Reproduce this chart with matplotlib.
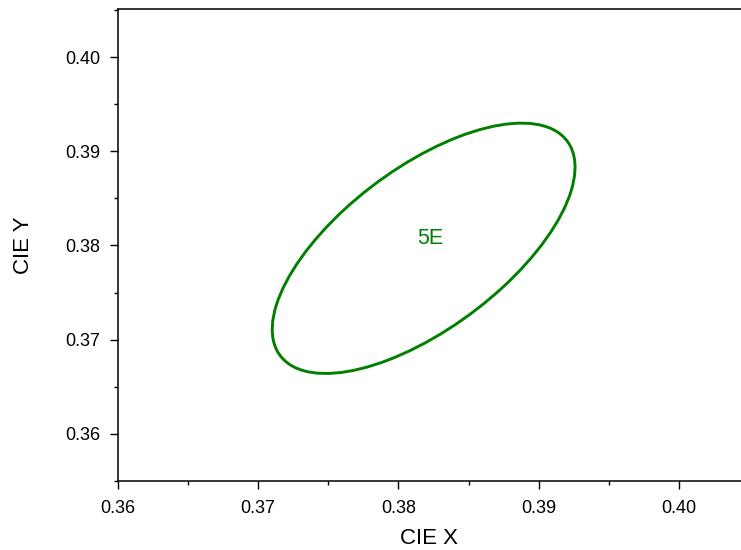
import matplotlib
matplotlib.use("Agg")
import matplotlib.pyplot as plt
from matplotlib.patches import Ellipse
from matplotlib.ticker import MultipleLocator

plt.rcParams['font.family'] = ['Liberation Sans', 'DejaVu Sans']

# confidence ellipse for sample 5E
sample = "5E"
center_x = 0.3818
center_y = 0.3797
ell_width = 0.03124
ell_height = 0.01398
ell_angle = 54.0
label_pos = (0.3823, 0.3807)

xticks = [0.36, 0.37, 0.38, 0.39, 0.40]
yticks = [0.36, 0.37, 0.38, 0.39, 0.40]

fig = plt.figure(figsize=(7.41, 5.5), dpi=100)
ax = fig.add_axes([0.1586, 0.1255, 0.8414, 0.8581])

ell = Ellipse((center_x, center_y), ell_width, ell_height, angle=ell_angle,
              fill=False, edgecolor='#007f00', linewidth=2.1)
ax.add_patch(ell)
ax.text(label_pos[0], label_pos[1], sample, color='#007f00', fontsize=15.5,
        ha='center', va='center')

ax.set_xlim(0.36, 0.4044)
ax.set_ylim(0.355, 0.4051)
ax.set_xticks(xticks)
ax.set_yticks(yticks)
ax.set_xticklabels([f"{t:.2f}" for t in xticks])
ax.set_yticklabels([f"{t:.2f}" for t in yticks])
ax.xaxis.set_minor_locator(MultipleLocator(0.005))
ax.yaxis.set_minor_locator(MultipleLocator(0.005))
ax.tick_params(which='major', direction='out', length=5.5, width=1, labelsize=13)
ax.tick_params(which='minor', direction='out', length=3, width=1)
ax.tick_params(axis='x', which='major', pad=8)
ax.tick_params(axis='y', which='major', pad=7)

ax.spines['right'].set_visible(False)
for s in ['left', 'bottom', 'top']:
    ax.spines[s].set_linewidth(1.1)

ax.set_xlabel("CIE X", fontsize=16, labelpad=8)
ax.set_ylabel("CIE Y", fontsize=16, labelpad=22)

fig.savefig("out.png", dpi=100)
